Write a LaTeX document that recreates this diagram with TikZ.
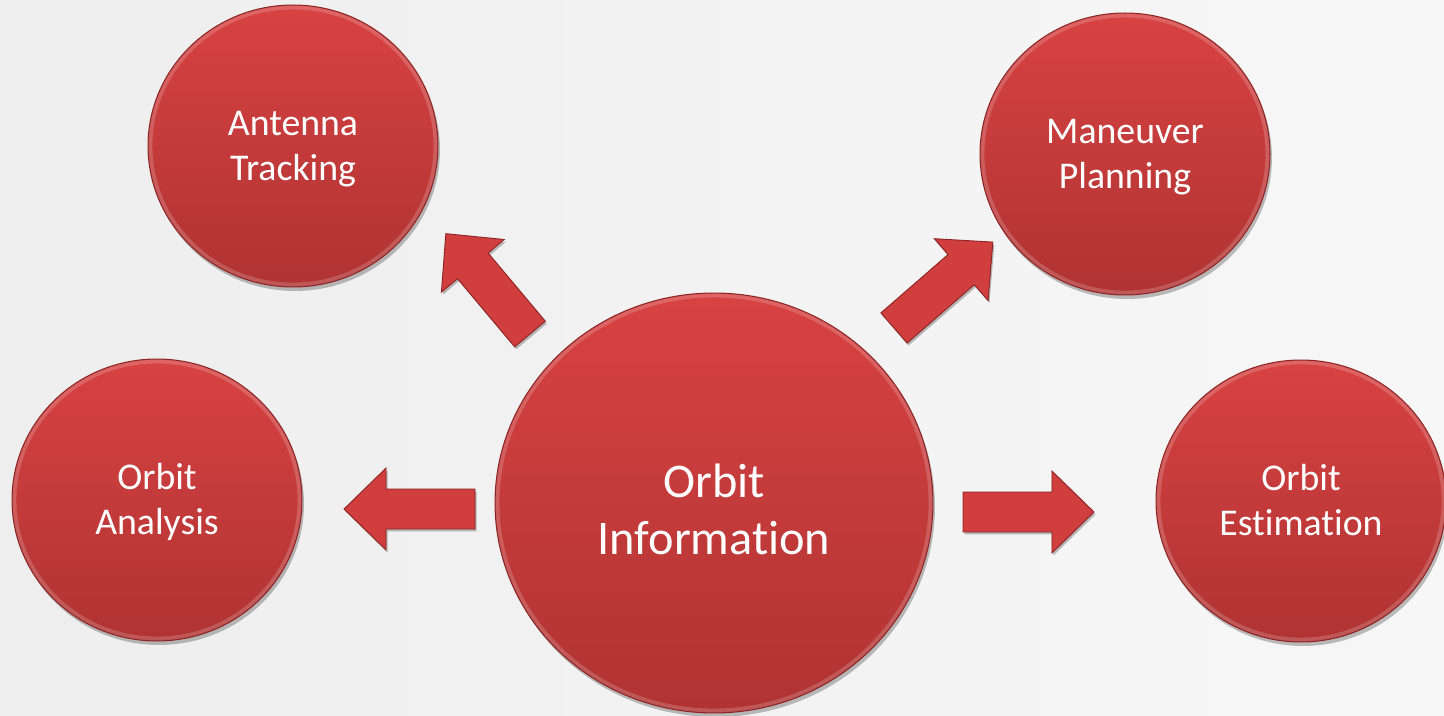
\documentclass[tikz,border=0pt]{standalone}
\usepackage{fontspec}
\setmainfont{Carlito}[Ligatures=CommonOff]
\usetikzlibrary{shapes.geometric, shadows, calc}

\definecolor{bubbletop}{RGB}{216,66,66}
\definecolor{bubblebot}{RGB}{176,51,51}
\definecolor{bubbleedge}{RGB}{140,36,36}
\definecolor{arrowred}{RGB}{208,62,62}
\definecolor{paper}{RGB}{238,238,238}
\definecolor{paperlight}{RGB}{247,247,247}

% two centred lines, pushed down by a strut in the first row
\newcommand{\twoline}[3][21.3pt]{%
    \begin{tabular}{@{}c@{}}\rule{0pt}{#1}#2\\#3\end{tabular}}

\tikzset{
    pics/flow/.style={code={
        \fill[arrowbody] (0cm,-0.4cm) -- (1.78cm,-0.4cm) -- (1.78cm,-0.82cm)
            -- (2.62cm,0cm) -- (1.78cm,0.82cm) -- (1.78cm,0.4cm) -- (0cm,0.4cm) -- cycle;
    }},
}

\begin{document}
\begin{tikzpicture}[
        x=0.02cm, y=-0.02cm,
        bubble/.style={ellipse, draw=bubbleedge, line width=0.6pt,
                top color=bubbletop, bottom color=bubblebot,
                minimum width=5.8cm, minimum height=5.64cm,
                text=white, font=\fontsize{21.5}{25.6}\selectfont,
                drop shadow={shadow xshift=0.04cm, shadow yshift=-0.08cm,
                        opacity=0.25, fill=black},
                path picture={
                    \draw[white, opacity=0.18, line width=5pt]
                        let \p1=(path picture bounding box.north east),
                            \p2=(path picture bounding box.center) in
                        (\p2) ellipse [x radius={\x1-\x2}, y radius={\y1-\y2}];
                }},
        hub/.style={bubble, minimum width=8.76cm, minimum height=8.4cm,
                font=\fontsize{27.5}{32.4}\selectfont},
        arrowbody/.style={arrowred, draw=bubbleedge, line width=0.5pt,
                drop shadow={shadow xshift=0.03cm, shadow yshift=-0.05cm,
                        opacity=0.25, fill=black}},
    ]

    % background
    \useasboundingbox (0,0) rectangle (1444,716);
    \fill[left color=paper, right color=paperlight] (0,0) rectangle (1444,716);

    % bubbles
    \node[hub] (info) at (714,503) {\twoline[36.4pt]{Orbit}{Information}};
    \node[bubble] (antenna) at (293,146) {\twoline{Antenna}{Tracking}};
    \node[bubble] (maneuver) at (1125,154) {\twoline{Maneuver}{Planning}};
    \node[bubble] (analysis) at (157,500) {\twoline{Orbit}{Analysis}};
    \node[bubble] (estimation) at (1301,501) {\twoline{Orbit}{Estimation}};

    % block arrows out of the hub
    \pic[rotate=180] (toAnalysis) at (475,509) {flow};
    \pic[rotate=0] (toEstimation) at (963,512) {flow};
    \pic[rotate=130] (toAntenna) at (530,334) {flow};
    \pic[rotate=41] (toManeuver) at (894,328) {flow};
\end{tikzpicture}
\end{document}
